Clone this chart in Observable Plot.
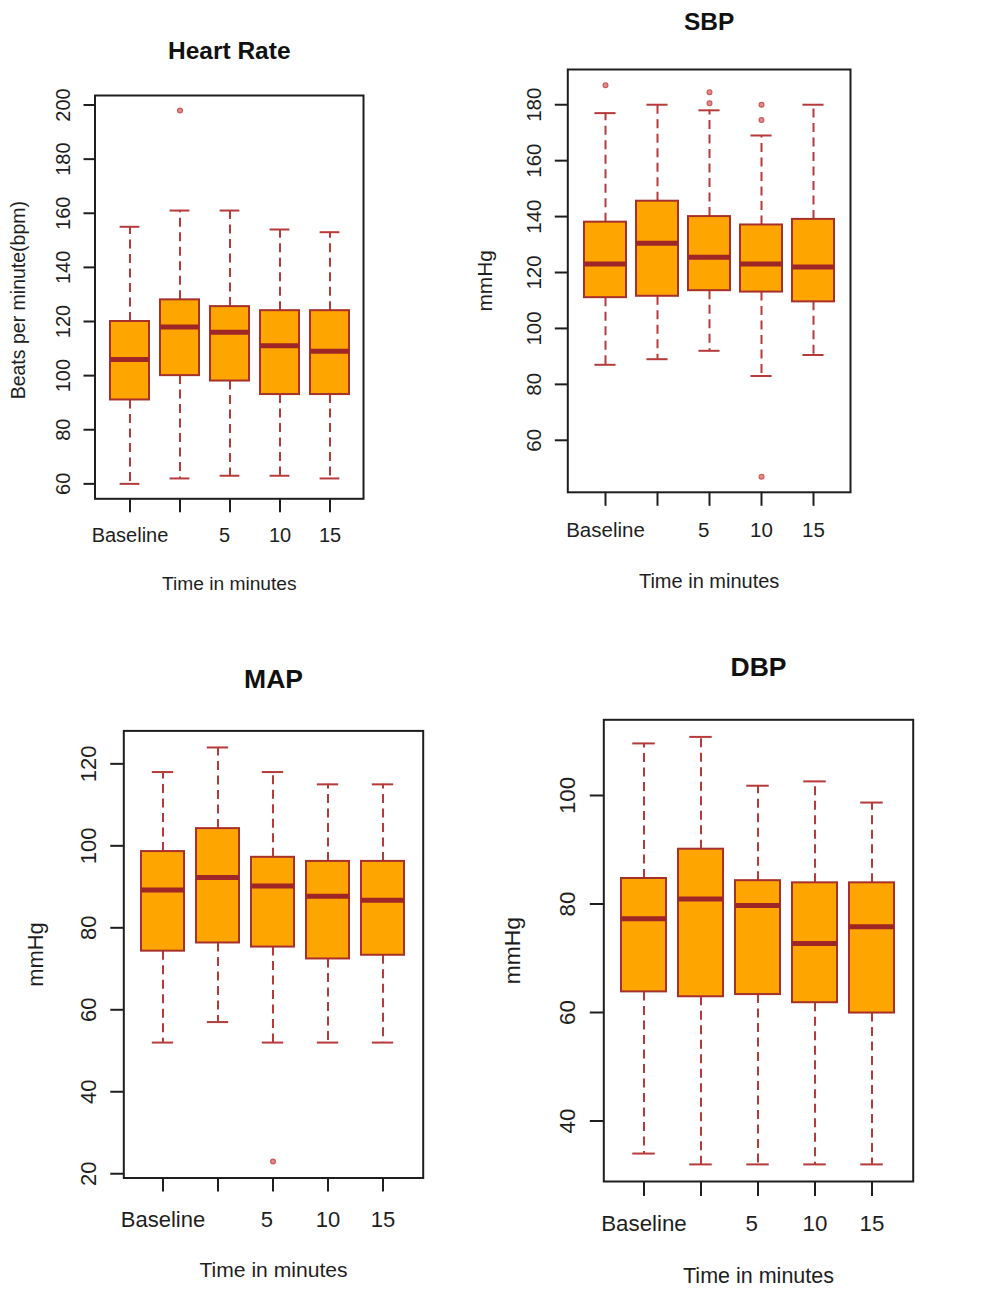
<!DOCTYPE html>
<html>
<head>
<meta charset="utf-8">
<script src="https://cdn.jsdelivr.net/npm/d3@7"></script>
<script src="https://cdn.jsdelivr.net/npm/@observablehq/plot@0.6"></script>
<style>
  html, body { margin: 0; padding: 0; background: #fff; overflow: hidden; }
  #page { position: relative; width: 987px; height: 1291px; overflow: hidden; background: #fff; }
  .panel { position: absolute; overflow: hidden; }
</style>
</head>
<body>
<div id="page"></div>
<script>
// ---- categories & tick labels ----
const categories = ["Baseline", "1", "5", "10", "15"];
const xTickLabels = ["Baseline", "", "5\u00a0\u00a0", "10", "15"];
const xTitle = "Time in minutes";

// ---- Heart Rate ----
const hrLo  = [60, 62, 63, 63, 62];
const hrQ1  = [91, 100, 98, 93, 93];
const hrMed = [106, 118, 116, 111, 109];
const hrQ3  = [120, 128, 125.5, 124, 124];
const hrHi  = [155, 161, 161, 154, 153];
const hrOutCat = ["1"];
const hrOutVal = [198];
const hrTicks = [60, 80, 100, 120, 140, 160, 180, 200];

// ---- SBP ----
const sbpLo  = [87, 89, 92, 83, 90.5];
const sbpQ1  = [111, 111.5, 113.5, 113, 109.5];
const sbpMed = [123, 130.5, 125.5, 123, 122];
const sbpQ3  = [138, 145.5, 140, 137, 139];
const sbpHi  = [177, 180, 178, 169, 180];
const sbpOutCat = ["Baseline", "5", "5", "10", "10", "10"];
const sbpOutVal = [187, 184.5, 180.5, 180, 174.5, 47];
const sbpTicks = [60, 80, 100, 120, 140, 160, 180];

// ---- MAP ----
const mapLo  = [52, 57, 52, 52, 52];
const mapQ1  = [74.3, 76.3, 75.3, 72.4, 73.3];
const mapMed = [89.2, 92.3, 90.2, 87.7, 86.7];
const mapQ3  = [98.6, 104.2, 97.2, 96.2, 96.2];
const mapHi  = [118, 124, 118, 115, 115];
const mapOutCat = ["5"];
const mapOutVal = [23];
const mapTicks = [20, 40, 60, 80, 100, 120];

// ---- DBP ----
const dbpLo  = [34, 32, 32, 32, 32];
const dbpQ1  = [63.8, 62.9, 63.3, 61.8, 59.9];
const dbpMed = [77.3, 80.9, 79.7, 72.7, 75.8];
const dbpQ3  = [84.7, 90.1, 84.3, 83.9, 83.9];
const dbpHi  = [109.6, 110.8, 101.8, 102.6, 98.7];
const dbpOutCat = [];
const dbpOutVal = [];
const dbpTicks = [40, 60, 80, 100];

// ---- colours ----
const BOX_FILL = "#FFA500";
const BOX_STROKE = "#A8302C";
const MEDIAN = "#9E2626";
const WHISKER = "#B73A3A";
const OUTLIER = "#CC5A5A";
const INK = "#1e1e1e";
const FONT = "'Liberation Sans', Arial, Helvetica, sans-serif";

function panel(cfg) {
  const rows = categories.map((c, i) => ({
    cat: c, lo: cfg.lo[i], q1: cfg.q1[i], med: cfg.med[i], q3: cfg.q3[i], hi: cfg.hi[i]
  }));
  const outs = cfg.outCat.map((c, i) => ({cat: c, v: cfg.outVal[i]}));
  const all = [...cfg.lo, ...cfg.hi, ...cfg.outVal];
  const [mn, mx] = d3.extent(all);
  const pad = 0.04 * (mx - mn);
  const L = cfg.layout;
  const plotW = L.frameR - L.frameL;
  const step = plotW / (categories.length - L.pi + 2 * L.po);
  const bw = step * (1 - L.pi);
  const marks = [
    Plot.ruleX(rows, {x: "cat", y1: "q3", y2: "hi", stroke: WHISKER, strokeWidth: 2, strokeDasharray: "9,5.5"}),
    Plot.ruleX(rows, {x: "cat", y1: "q1", y2: "lo", stroke: WHISKER, strokeWidth: 2, strokeDasharray: "9,5.5"}),
    Plot.tickY(rows, {x: "cat", y: "hi", stroke: WHISKER, strokeWidth: 2, insetLeft: bw / 4, insetRight: bw / 4}),
    Plot.tickY(rows, {x: "cat", y: "lo", stroke: WHISKER, strokeWidth: 2, insetLeft: bw / 4, insetRight: bw / 4}),
    Plot.barY(rows, {x: "cat", y1: "q1", y2: "q3", fill: BOX_FILL, stroke: BOX_STROKE, strokeWidth: 2}),
    Plot.tickY(rows, {x: "cat", y: "med", stroke: MEDIAN, strokeWidth: 5}),
    Plot.dot(outs, {x: "cat", y: "v", r: 2.4, fill: "#E08C8C", stroke: OUTLIER, strokeWidth: 1.2}),
    Plot.frame({stroke: INK, strokeWidth: 2}),
    Plot.axisY({ticks: cfg.ticks, tickSize: L.yTick, tickPadding: L.yPad, tickRotate: -90,
                label: null, stroke: INK, strokeWidth: 2, fill: INK}),
    Plot.axisX({tickSize: L.xTick, tickPadding: L.xPad, label: null, stroke: INK, strokeWidth: 2, fill: INK,
                tickFormat: d => xTickLabels[categories.indexOf(d)]}),
    Plot.text([cfg.title], {text: d => d, frameAnchor: "top", dy: L.titleDy, lineAnchor: "bottom",
                textAnchor: "middle", fontWeight: "bold", fontSize: L.titleSize, fill: "#111"}),
    Plot.text([xTitle], {text: d => d, frameAnchor: "bottom", dy: L.xTitleDy, lineAnchor: "bottom",
                textAnchor: "middle", fontSize: L.labSize, fill: INK}),
    Plot.text([cfg.yTitle], {text: d => d, frameAnchor: "left", dx: L.yTitleDx, dy: L.yTitleDy || 0,
                rotate: -90, lineAnchor: "bottom", textAnchor: "middle", fontSize: L.yLabSize, fill: INK})
  ];
  const width = L.right - L.left;
  const height = L.bottom - L.top;
  const chart = Plot.plot({
    width, height,
    marginLeft: L.frameL - L.left,
    marginRight: L.right - L.frameR,
    marginTop: L.frameT - L.top,
    marginBottom: L.bottom - L.frameB,
    x: {type: "band", domain: categories, paddingInner: L.pi, paddingOuter: L.po, align: 0.5},
    y: {domain: [mn - pad, mx + pad]},
    style: {fontFamily: FONT, fontSize: L.tickSize + "px", color: INK, background: "transparent"},
    marks
  });
  const div = document.createElement("div");
  div.className = "panel";
  div.style.left = L.left + "px";
  div.style.top = L.top + "px";
  div.style.width = width + "px";
  div.style.height = height + "px";
  div.appendChild(chart);
  document.getElementById("page").appendChild(div);
}

panel({
  title: "Heart Rate", yTitle: "Beats per minute(bpm)",
  lo: hrLo, q1: hrQ1, med: hrMed, q3: hrQ3, hi: hrHi, outCat: hrOutCat, outVal: hrOutVal, ticks: hrTicks,
  layout: {left: 0, right: 385, top: 0, bottom: 615, frameL: 94.5, frameR: 363, frameT: 95, frameB: 498.3,
           pi: 0.23, po: 0.30, yTick: 11, yPad: 14.2, xTick: 14, xPad: 14.5,
           tickSize: 20, titleSize: 24.5, labSize: 19.2, yLabSize: 19.5,
           titleDy: -36.5, xTitleDy: 91.2, yTitleDx: -70.5, yTitleDy: 3}
});

panel({
  title: "SBP", yTitle: "mmHg",
  lo: sbpLo, q1: sbpQ1, med: sbpMed, q3: sbpQ3, hi: sbpHi, outCat: sbpOutCat, outVal: sbpOutVal, ticks: sbpTicks,
  layout: {left: 455, right: 875, top: 0, bottom: 615, frameL: 567.3, frameR: 850, frameT: 69, frameB: 491.8,
           pi: 0.20, po: 0.308, yTick: 12.5, yPad: 14.8, xTick: 14, xPad: 16.6,
           tickSize: 20.5, titleSize: 24.5, labSize: 20, yLabSize: 20.8,
           titleDy: -40, xTitleDy: 95.5, yTitleDx: -76}
});

panel({
  title: "MAP", yTitle: "mmHg",
  lo: mapLo, q1: mapQ1, med: mapMed, q3: mapQ3, hi: mapHi, outCat: mapOutCat, outVal: mapOutVal, ticks: mapTicks,
  layout: {left: 0, right: 445, top: 640, bottom: 1291, frameL: 123.3, frameR: 422.7, frameT: 730.4, frameB: 1177.5,
           pi: 0.217, po: 0.316, yTick: 13, yPad: 15.3, xTick: 14, xPad: 19,
           tickSize: 22, titleSize: 26.5, labSize: 21.1, yLabSize: 21.9,
           titleDy: -43.4, xTitleDy: 99, yTitleDx: -81}
});

panel({
  title: "DBP", yTitle: "mmHg",
  lo: dbpLo, q1: dbpQ1, med: dbpMed, q3: dbpQ3, hi: dbpHi, outCat: dbpOutCat, outVal: dbpOutVal, ticks: dbpTicks,
  layout: {left: 480, right: 987, top: 640, bottom: 1291, frameL: 603.3, frameR: 912.7, frameT: 719.3, frameB: 1181,
           pi: 0.21, po: 0.319, yTick: 13.5, yPad: 15, xTick: 15, xPad: 19,
           tickSize: 22.3, titleSize: 26.5, labSize: 21.5, yLabSize: 22.9,
           titleDy: -44.3, xTitleDy: 101.5, yTitleDx: -84}
});
</script>
</body>
</html>
